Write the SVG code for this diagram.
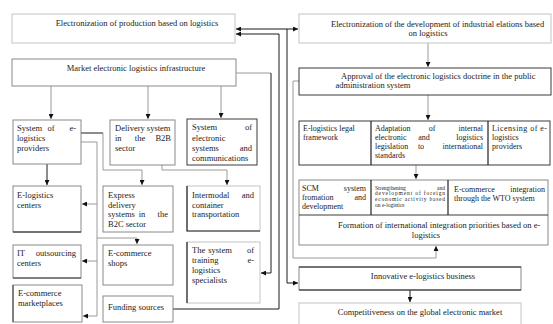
<svg xmlns="http://www.w3.org/2000/svg" width="553" height="324" viewBox="0 0 553 324">
<style>
text{font-family:"Liberation Serif","Times New Roman",serif;font-size:8.5px;fill:#222}
.m{text-anchor:middle}.e{text-anchor:end}
.t8{font-size:8px}
.t6{font-size:5.5px}
rect{fill:#fff}
.lg{stroke:#c4c4c4;stroke-width:1}
.md{stroke:#8a8a8a;stroke-width:1}
.dk{stroke:#3a3a3a;stroke-width:1}
path.dk{fill:none}
.c{fill:none;stroke:#1a1a1a;stroke-width:1}
.cg{fill:none;stroke:#9a9a9a;stroke-width:1}
.a{marker-end:url(#ah)}
.dl{fill:none;stroke:#222;stroke-width:1.2}
</style>
<defs>
<marker id="ah" markerUnits="userSpaceOnUse" markerWidth="5" markerHeight="5" refX="5" refY="2.5" orient="auto"><path d="M0,0 L5,2.5 L0,5 z" fill="#111"/></marker>
</defs>
<rect x="0" y="0" width="553" height="324" fill="#fff"/>

<g id="connectors">
<path class="cg a" d="M51 86 V119"/>
<path class="cg a" d="M148 86 V119"/>
<path class="cg a" d="M221 86 V118"/>
<path class="cg" d="M236 73 H271"/>
<path class="c a" d="M271 73 V273 H261"/>
<path class="c a" d="M287 29 H236"/>
<path class="c a" d="M287 29 H298"/>
<path class="c a" d="M287 29 V283 H298"/>
<path class="c a" d="M173 309 H279 V34 H236"/>
<path class="cg a" d="M428 43 V67"/>
<path class="cg a" d="M428 95 V120"/>
<path class="cg a" d="M416 165 V179"/>
<path class="cg a" d="M299 81 H293 V258 H436 V246"/>
<path class="c a" d="M410 290 V302"/>
<path class="c a" d="M47 164 V185"/>
<path class="c" d="M81 133 H103"/>
<path class="cg a" d="M103 133 V170 H142 V185"/>
<path class="cg a" d="M162 165 V170 H227 V185"/>
<path class="cg a" d="M81 142 H97 V316 H83"/>
<path class="cg a" d="M97 204 H82"/>
<path class="cg a" d="M97 261 H82"/>
<path class="cg a" d="M97 238 H137 V244"/>
</g>

<g id="n-production">
<rect class="lg" x="12" y="14" width="223" height="29"/>
<text class="m" x="137" y="26">Electronization of production based on logistics</text>
</g>

<g id="n-market">
<rect class="md" x="12" y="59" width="224" height="27"/>
<text class="m" x="136" y="71">Market electronic logistics infrastructure</text>
</g>

<g id="n-industrial">
<rect class="lg" x="299" y="14" width="252" height="29"/>
<text x="331" y="27">Electronization of the development of industrial elations based</text>
<text class="m" x="428" y="36">on logistics</text>
</g>

<g id="n-approval">
<rect class="dk" x="299" y="68" width="252" height="27"/>
<text x="341" y="79">Approval of the electronic logistics doctrine in the public</text>
<text class="m" x="373" y="88">administration system</text>
</g>

<g id="n-table1">
<rect class="dk" x="299" y="121" width="251" height="44"/>
<path class="dl" d="M371 121 V165 M488 121 V165"/>
<g id="n-legal">
<text class="t8" x="303" y="131">E-logistics legal</text>
<text class="t8" x="303" y="140">framework</text>
</g>
<g id="n-adaptation">
<text class="t8" x="375" y="131">Adaptation</text><text class="t8 m" x="432" y="131">of</text><text class="t8 e" x="483" y="131">internal</text>
<text class="t8" x="375" y="140">electronic</text><text class="t8 m" x="424" y="140">and</text><text class="t8 e" x="483" y="140">logistics</text>
<text class="t8" x="375" y="149">legislation</text><text class="t8 m" x="421" y="149">to</text><text class="t8 e" x="483" y="149">international</text>
<text class="t8" x="375" y="158">standards</text>
</g>
<g id="n-licensing">
<text class="t8" x="492" y="131" textLength="55" lengthAdjust="spacing">Licensing of e-</text>
<text class="t8" x="492" y="140">logistics</text>
<text class="t8" x="492" y="149">providers</text>
</g>
</g>

<g id="n-table2">
<rect class="md" x="299" y="180" width="249" height="65"/>
<path class="dk" d="M299 215 H548"/>
<path class="dl" d="M371 180 V215 M448 180 V215"/>
<g id="n-scm">
<text class="t8" x="302" y="191">SCM</text><text class="t8 e" x="366" y="191">system</text>
<text class="t8" x="302" y="200">fromation</text><text class="t8 e" x="366" y="200">and</text>
<text class="t8" x="302" y="209">development</text>
</g>
<g id="n-strengthening">
<text class="t6" x="375" y="189.5">Strengthening</text><text class="t6 e" x="445" y="189.5">and</text>
<text class="t6" x="375" y="195.3" textLength="70" lengthAdjust="spacing">development of foreign</text>
<text class="t6" x="375" y="201" textLength="70" lengthAdjust="spacing">economic activity based</text>
<text class="t6" x="375" y="206.7">on e-logistics</text>
</g>
<g id="n-wto">
<text class="t8" x="454" y="192">E-commerce</text><text class="t8 e" x="545" y="192">integration</text>
<text class="t8" x="454" y="201">through the WTO system</text>
</g>
<g id="n-formation">
<text x="338" y="228">Formation of international integration priorities based on e-</text>
<text class="m" x="426" y="238">logistics</text>
</g>
</g>

<g id="n-innovative">
<rect class="md" x="299" y="267" width="222" height="23"/>
<path class="dl" d="M299 267 H521 M299 290 H521"/>
<text class="m" x="423" y="279">Innovative e-logistics business</text>
</g>

<g id="n-competitiveness">
<rect class="lg" x="299" y="303" width="222" height="25"/>
<text class="m" x="420" y="315">Competitiveness on the global electronic market</text>
</g>

<g id="n-providers">
<rect class="md" x="13" y="120" width="68" height="44"/>
<text x="17" y="131">System</text><text class="m" x="51" y="131">of</text><text class="e" x="76" y="131">e-</text>
<text x="17" y="141">logistics</text>
<text x="17" y="151">providers</text>
</g>

<g id="n-delivery">
<rect class="md" x="110" y="120" width="65" height="45"/>
<text x="115" y="131">Delivery system</text>
<text x="115" y="141">in</text><text class="m" x="140" y="141">the</text><text class="e" x="171" y="141">B2B</text>
<text x="115" y="151">sector</text>
</g>

<g id="n-electronic">
<rect class="dk" x="187" y="119" width="70" height="46"/>
<text x="192" y="130">System</text><text class="e" x="252" y="130">of</text>
<text x="192" y="140.5">electronic</text>
<text x="192" y="151">systems</text><text class="e" x="252" y="151">and</text>
<text x="192" y="161">communications</text>
</g>

<g id="n-centers">
<rect class="md" x="13" y="186" width="68" height="46"/>
<path class="dl" d="M13 232 H81"/>
<text x="17" y="198">E-logistics</text>
<text x="17" y="207.5">centers</text>
</g>

<g id="n-express">
<rect class="md" x="103" y="186" width="70" height="46"/>
<text x="108" y="198">Express</text>
<text x="108" y="207.5">delivery</text>
<text x="108" y="217">systems</text><text class="m" x="142" y="217">in</text><text class="e" x="168" y="217">the</text>
<text x="108" y="226.5">B2C sector</text>
</g>

<g id="n-intermodal">
<rect class="lg" x="187" y="186" width="73" height="45"/>
<path class="dl" d="M187 186 V231 H260"/>
<text x="192" y="198">Intermodal</text><text class="e" x="254" y="198">and</text>
<text x="192" y="207.5">container</text>
<text x="192" y="217">transportation</text>
</g>

<g id="n-outsourcing">
<rect class="md" x="13" y="245" width="68" height="33"/>
<path class="dk" d="M13 278 H81"/>
<text x="17" y="256">IT</text><text class="e" x="76" y="256">outsourcing</text>
<text x="17" y="266">centers</text>
</g>

<g id="n-shops">
<rect class="md" x="103" y="245" width="70" height="40"/>
<text x="108" y="256">E-commerce</text>
<text x="108" y="266">shops</text>
</g>

<g id="n-marketplaces">
<rect class="md" x="13" y="285" width="69" height="37"/>
<path class="dk" d="M13 285 V322"/>
<text x="18" y="296">E-commerce</text>
<text x="18" y="306">marketplaces</text>
</g>

<g id="n-funding">
<rect class="md" x="103" y="296" width="70" height="26"/>
<text x="108" y="310">Funding sources</text>
</g>

<g id="n-training">
<rect class="lg" x="187" y="242" width="73" height="61"/>
<path class="dl" d="M187 242 V303"/>
<text x="192" y="253">The</text><text class="m" x="220" y="253">system</text><text class="e" x="254" y="253">of</text>
<text x="192" y="263">training</text><text class="e" x="254" y="263">e-</text>
<text x="192" y="273">logistics</text>
<text x="192" y="283">specialists</text>
</g>
</svg>
